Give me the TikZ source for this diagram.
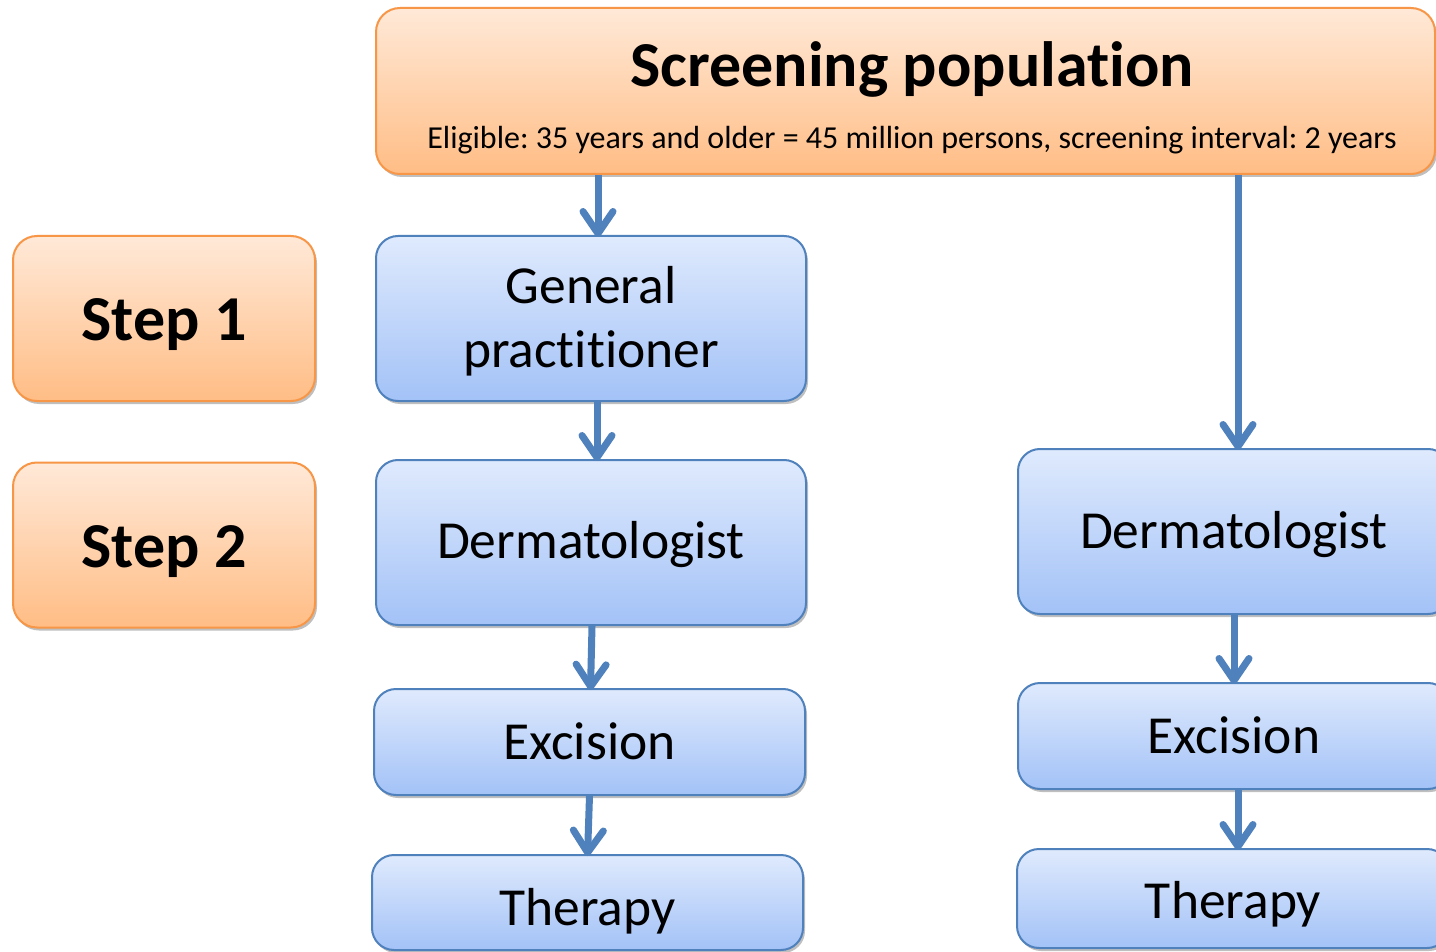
\documentclass[tikz,border=0pt]{standalone}
\usepackage{fontspec}
\setmainfont{Carlito}[Ligatures=NoCommon]
\usetikzlibrary{arrows.meta,shadows,calc}
\definecolor{obord}{HTML}{F79646}
\definecolor{otop}{HTML}{FFE9D8}
\definecolor{obot}{HTML}{FFBD85}
\definecolor{bbord}{HTML}{4F81BD}
\definecolor{btop}{HTML}{DFEAFD}
\definecolor{bbot}{HTML}{A3C2F7}
\definecolor{arrc}{HTML}{4F81BD}
\frenchspacing
% put the baseline of #2 at #1 pt below the node centre
\newcommand{\lowr}[2]{\raisebox{-#1pt}[0pt][0pt]{#2}}
\begin{document}
\begin{tikzpicture}[x=1pt,y=-1pt,
  shadowed/.style={drop shadow={shadow xshift=2pt,shadow yshift=-3pt,opacity=0.25,fill=black}},
  obox/.style={shape=rectangle,draw=obord,line width=2pt,rounded corners=24pt,top color=otop,bottom color=obot,shadowed,inner sep=0pt,align=center},
  bbox/.style={shape=rectangle,draw=bbord,line width=2pt,rounded corners=22pt,top color=btop,bottom color=bbot,shadowed,inner sep=0pt,font=\fontsize{53.5}{64}\selectfont},
  stepbox/.style={obox,minimum width=302pt,minimum height=165pt,font=\fontsize{64}{70}\selectfont\bfseries},
  arr/.style={draw=arrc,line width=7pt,-{Straight Barb[round,length=22pt,width=30pt]}}]
\path[use as bounding box,clip] (0,0) rectangle (1436,952);
\fill[white] (0,0) rectangle (1436,952);
% top box
\node[obox,minimum width=1059pt,minimum height=166pt] (top) at (905.5,91) {};
\node[anchor=base,font=\fontsize{64}{72}\selectfont\bfseries] (title) at (912,87) {Screening population};
\node[anchor=base,font=\fontsize{32}{36}\selectfont] (sub) at (912,149) {Eligible: 35 years and older = 45 million persons, screening interval: 2 years};
% steps
\node[stepbox] (s1) at (164,318.5) {\lowr{21.5}{Step 1}};
\node[stepbox] (s2) at (164,545) {\lowr{22}{Step 2}};
% left column
\node[bbox,minimum width=430pt,minimum height=165pt] (gp) at (591,318.5) {\raisebox{14.5pt}[0pt][0pt]{\begin{tabular}[t]{@{}c@{}}General\\practitioner\end{tabular}}};
\node[bbox,minimum width=430pt,minimum height=165pt] (dl) at (591,542.5) {\lowr{16}{Dermatologist}};
\node[bbox,minimum width=431pt,minimum height=106pt] (el) at (589.5,742) {\lowr{17}{Excision}};
\node[bbox,minimum width=431pt,minimum height=95pt] (tl) at (587.5,902.5) {\lowr{22.5}{Therapy}};
% right column
\node[bbox,minimum width=432pt,minimum height=165pt] (dr) at (1234,531.5) {\lowr{17}{Dermatologist}};
\node[bbox,minimum width=432pt,minimum height=106pt] (er) at (1234,736) {\lowr{17}{Excision}};
\node[bbox,minimum width=432pt,minimum height=99pt] (tr) at (1233,898.5) {\lowr{20}{Therapy}};
% arrows
\draw[arr] ($(gp.north |- top.south)+(7,0)$) -- ($(gp.north)+(7,2)$);
\draw[arr] ($(gp.south)+(6,0)$) -- ($(dl.north)+(6,2)$);
\draw[arr] ($(dl.south)+(1,0)$) -- ($(el.north)+(1,2)$);
\draw[arr] (el.south) -- ($(tl.north)+(0,2)$);
\draw[arr] ($(dr.north |- top.south)+(4,0)$) -- ($(dr.north)+(4,2)$);
\draw[arr] (dr.south) -- ($(er.north)+(0,2)$);
\draw[arr] ($(er.south)+(4,0)$) -- ($(tr.north)+(5,2)$);
\end{tikzpicture}
\end{document}
